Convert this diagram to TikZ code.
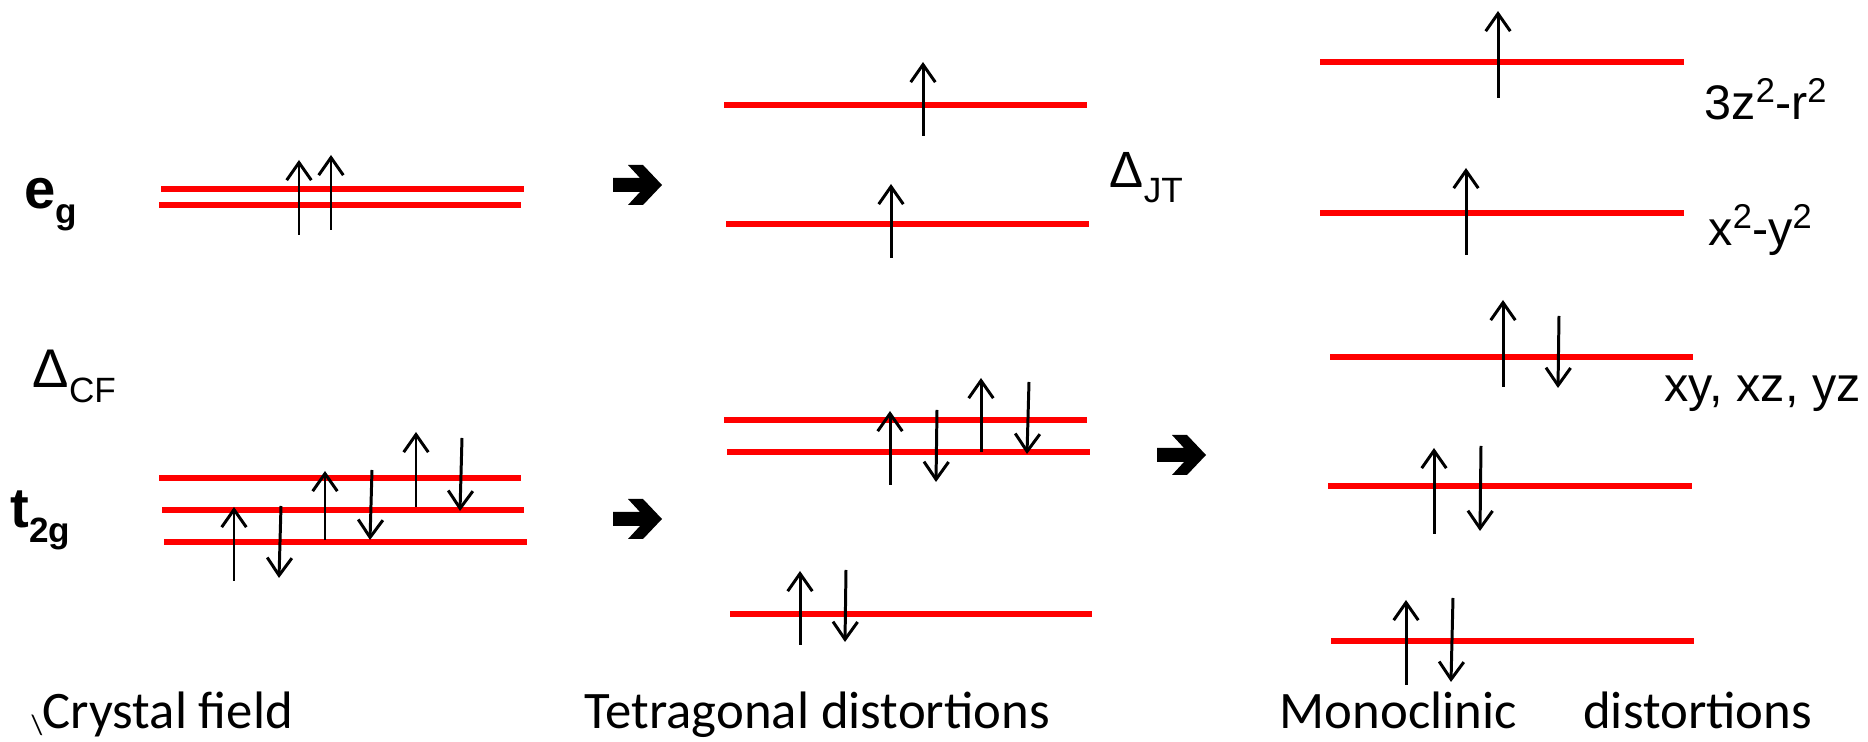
\documentclass[tikz,border=0pt]{standalone}
\usepackage{fontspec}
\setmainfont{Liberation Sans}
\newfontfamily\capfont{Carlito}
\usetikzlibrary{arrows.meta}
\definecolor{levelred}{RGB}{255,0,0}
\newcommand\loscr[1]{\raisebox{-4pt}{\fontsize{10}{11}\selectfont #1}}
\newcommand\hiscr[1]{\raisebox{5pt}{\fontsize{9.8}{10}\selectfont #1}}

\begin{document}
\begin{tikzpicture}[x=0.1mm, y=-0.1mm,
  level/.style={draw=levelred, line width=1.6pt},
  spin/.style={-{Straight Barb[length=5pt,width=7pt]}, line width=0.85pt},
  lbl/.style={anchor=base west, inner sep=0pt, font=\fontsize{15.5}{17}\selectfont},
  boldlbl/.style={lbl, font=\bfseries\fontsize{16}{18}\selectfont},
  orb/.style={lbl, font=\fontsize{13.8}{16}\selectfont},
  captext/.style={anchor=base west, inner sep=0pt, font=\capfont\fontsize{15}{17}\selectfont},
  bigarrow/.pic={\fill (0,-7) -- (27,-7) -- (15,-20) -- (30,-20) -- (49,0)
    -- (30,20) -- (15,20) -- (27,7) -- (0,7) -- cycle;}
]
\useasboundingbox (0,0) rectangle (1868,742);

% crystal field
\node[boldlbl] (eg) at (24,209) {e\loscr{g}};
\node[lbl] (dcf) at (32,388) {Δ\loscr{CF}};
\node[boldlbl] (t2g) at (10,528) {t\loscr{2g}};
\draw[level] (161,189) -- (524,189);
\draw[level] (159,205) -- (521,205);
\draw[level] (159,478) -- (521,478);
\draw[level] (162,510) -- (524,510);
\draw[level] (164,542) -- (527,542);
\draw[spin] (299,235) -- (299,160);
\draw[spin] (331,230) -- (331,155);
\draw[spin] (234,581) -- (234,507);
\draw[spin] (281,506) -- (279,578);
\draw[spin] (325,540) -- (325,471);
\draw[spin] (372,470) -- (370,540);
\draw[spin] (416,507) -- (416,432);
\draw[spin] (462,438) -- (460,511);

% tetragonal
\pic at (613,185) {bigarrow};
\pic at (613,519) {bigarrow};
\node[lbl, font=\fontsize{14.5}{16}\selectfont] (djt) at (1109,188) {Δ\loscr{JT}};
\draw[level] (724,105) -- (1087,105);
\draw[level] (726,224) -- (1089,224);
\draw[level] (724,420) -- (1087,420);
\draw[level] (727,452) -- (1090,452);
\draw[level] (730,614) -- (1092,614);
\draw[spin] (923,136) -- (923,62);
\draw[spin] (891,258) -- (891,184);
\draw[spin] (890,485) -- (890,411);
\draw[spin] (937,410) -- (936,482);
\draw[spin] (981,452) -- (981,378);
\draw[spin] (1029,382) -- (1027,454);
\draw[spin] (800,645) -- (800,571);
\draw[spin] (846,570) -- (845,642);

% monoclinic
\pic at (1157,455) {bigarrow};
\node[orb] (z2) at (1704,120) {3z\hiscr{2}-r\hiscr{2}};
\node[orb] (x2y2) at (1708,246) {x\hiscr{2}-y\hiscr{2}};
\node[orb] (t2set) at (1664,402) {xy, xz, yz};
\draw[level] (1320,62) -- (1684,62);
\draw[level] (1320,213) -- (1684,213);
\draw[level] (1330,357) -- (1693,357);
\draw[level] (1328,486) -- (1692,486);
\draw[level] (1331,641) -- (1694,641);
\draw[spin] (1498,98) -- (1498,11);
\draw[spin] (1466,255) -- (1466,168);
\draw[spin] (1503,387) -- (1503,300);
\draw[spin] (1559,316) -- (1558,388);
\draw[spin] (1434,534) -- (1434,448);
\draw[spin] (1481,446) -- (1480,531);
\draw[spin] (1406,685) -- (1406,600);
\draw[spin] (1453,598) -- (1451,682);

\node[captext] (cf) at (31,729) {\raisebox{-1.7pt}{\fontsize{8}{9}\selectfont\textbackslash}Crystal field};
\node[captext] (tet) at (584,729) {Tetragonal distortions};
\node[captext] (mono) at (1279,729) {Monoclinic\hspace{19pt}distortions};
\end{tikzpicture}
\end{document}
